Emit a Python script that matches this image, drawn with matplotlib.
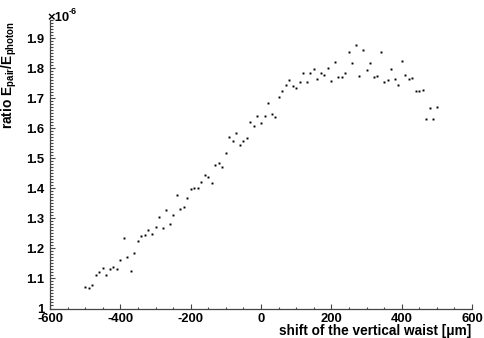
import numpy as np
import matplotlib
matplotlib.use('Agg')
import matplotlib.pyplot as plt
from matplotlib.ticker import MultipleLocator, FuncFormatter

# shift of the vertical waist [um]
shift = np.arange(-500, 501, 10)

# ratio E_pair/E_photon in units of 1e-6
ratio = [1.071, 1.067, 1.079, 1.111, 1.122, 1.136, 1.111, 1.130, 1.137, 1.131,
         1.163, 1.233, 1.170, 1.126, 1.185, 1.226, 1.240, 1.244, 1.261, 1.247,
         1.272, 1.305, 1.268, 1.329, 1.282, 1.312, 1.379, 1.330, 1.337, 1.368,
         1.396, 1.402, 1.402, 1.420, 1.445, 1.438, 1.419, 1.479, 1.485, 1.471,
         1.518, 1.571, 1.557, 1.585, 1.545, 1.556, 1.566, 1.621, 1.608, 1.639,
         1.617, 1.640, 1.685, 1.648, 1.637, 1.705, 1.725, 1.745, 1.762, 1.739,
         1.733, 1.755, 1.783, 1.755, 1.784, 1.797, 1.764, 1.783, 1.778, 1.800,
         1.756, 1.821, 1.771, 1.771, 1.782, 1.854, 1.817, 1.877, 1.772, 1.860,
         1.794, 1.818, 1.770, 1.775, 1.854, 1.755, 1.762, 1.797, 1.765, 1.745,
         1.825, 1.777, 1.764, 1.767, 1.724, 1.724, 1.728, 1.631, 1.668, 1.632,
         1.671]

plt.rcParams['font.family'] = ['Liberation Sans', 'DejaVu Sans']
plt.rcParams['font.weight'] = 'bold'
plt.rcParams['axes.unicode_minus'] = False
plt.rcParams['mathtext.fontset'] = 'custom'
plt.rcParams['mathtext.rm'] = 'Liberation Sans:bold'
plt.rcParams['mathtext.it'] = 'Liberation Sans:bold'
plt.rcParams['mathtext.bf'] = 'Liberation Sans:bold'

fig = plt.figure(figsize=(4.84, 3.38), dpi=100)
ax = fig.add_axes([50 / 484, 1 - 308.5 / 338, 422 / 484, 288.5 / 338])

ax.plot(shift, ratio, 's', color='black', markersize=1.4, markeredgewidth=0)

ax.set_xlim(-600, 600)
ax.set_ylim(1.0, 1.96)

# ROOT-like axes: only left and bottom, ticks inside
ax.spines['top'].set_visible(False)
ax.spines['right'].set_visible(False)
for s in ['left', 'bottom']:
    ax.spines[s].set_color('#444444')
    ax.spines[s].set_linewidth(0.9)

ax.xaxis.set_major_locator(MultipleLocator(200))
ax.xaxis.set_minor_locator(MultipleLocator(50))
ax.yaxis.set_major_locator(MultipleLocator(0.1))
ax.yaxis.set_minor_locator(MultipleLocator(0.01))
ax.yaxis.set_major_formatter(FuncFormatter(lambda v, p: '%g' % round(v, 2)))

ax.tick_params(which='both', direction='in', colors='#444444', labelcolor='black',
               labelsize=9.4, width=0.8)
ax.tick_params(which='major', length=3.8)
ax.tick_params(which='minor', length=1.8)
ax.tick_params(axis='x', pad=3)
ax.tick_params(axis='y', pad=4)

# axis titles and exponent
fig.text(471 / 484, 1 - 331.5 / 338, 'shift of the vertical waist [\u03bcm]',
         ha='right', va='center', fontsize=9.8, fontweight='bold')
fig.text(9 / 484, 1 - 21 / 338, r'ratio E$_{pair}$/E$_{photon}$', rotation=90,
         ha='center', va='top', fontsize=9.9, fontweight='bold')
fig.text(47 / 484, 1 - 18 / 338, '\u00d710', ha='left', va='center',
         fontsize=9.4, fontweight='bold')
fig.text(69 / 484, 1 - 11 / 338, '-6', ha='left', va='center',
         fontsize=6.5, fontweight='bold')

fig.savefig('out.png', dpi=100)
